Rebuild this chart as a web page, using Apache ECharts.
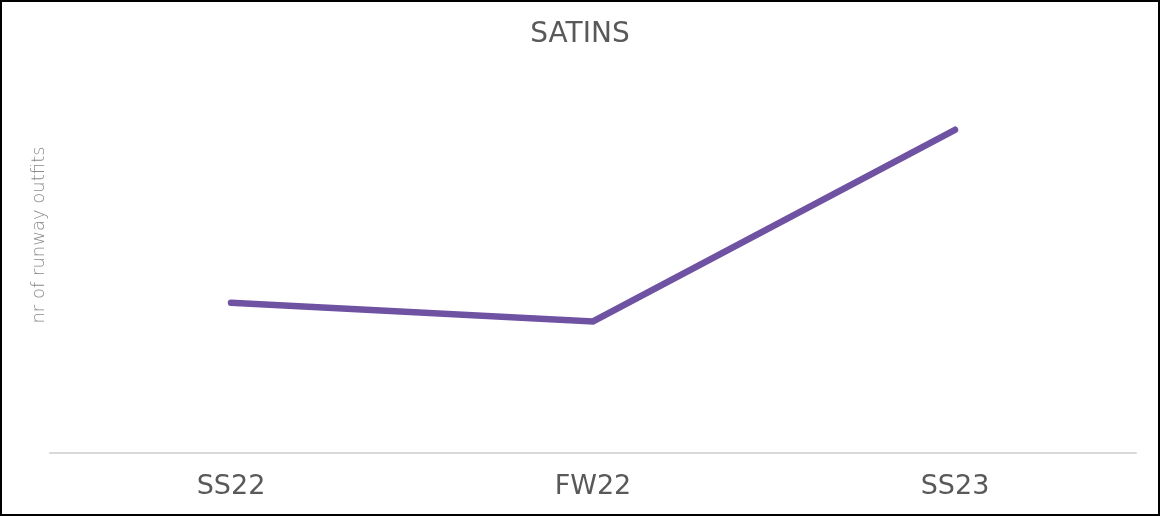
<!DOCTYPE html>
<html>
<head>
<meta charset="utf-8">
<script src="https://cdn.jsdelivr.net/npm/echarts@6/dist/echarts.min.js"></script>
<style>
html,body{margin:0;padding:0;background:#fff;}
#frame{width:1160px;height:516px;box-sizing:border-box;border:2px solid #000;position:relative;}
#chart{position:absolute;left:-2px;top:-2px;width:1160px;height:516px;}
</style>
</head>
<body>
<div id="frame"><div id="chart"></div></div>
<script>
const categories = ['SS22', 'FW22', 'SS23'];
const satins = [40, 35, 86];
const titleText = 'SATINS';
const yName = 'nr of runway outfits';

const chart = echarts.init(document.getElementById('chart'), null, {renderer: 'canvas'});
chart.setOption({
  animation: false,
  title: {
    text: titleText,
    left: 'center',
    top: 16,
    textStyle: {fontFamily: 'DejaVu Sans', fontSize: 28, fontWeight: 'normal', color: '#595959'}
  },
  grid: {left: 50, right: 24, top: 17, bottom: 63, containLabel: false},
  xAxis: {
    type: 'category',
    data: categories,
    boundaryGap: true,
    axisLine: {show: true, lineStyle: {color: '#d9d9d9', width: 2}},
    axisTick: {show: false},
    axisLabel: {fontFamily: 'DejaVu Sans', fontSize: 27, color: '#595959', margin: 20}
  },
  yAxis: {
    type: 'value',
    min: 0,
    max: 116,
    name: yName,
    nameLocation: 'middle',
    nameGap: 2,
    nameTextStyle: {fontFamily: 'DejaVu Sans', fontSize: 18, fontWeight: 200, color: '#8a8a8a'},
    axisLine: {show: false},
    axisTick: {show: false},
    axisLabel: {show: false},
    splitLine: {show: false}
  },
  series: [{
    type: 'line',
    data: satins,
    symbol: 'none',
    lineStyle: {color: '#7052a3', width: 6.5, cap: 'round', join: 'miter'}
  }]
});
</script>
</body>
</html>
